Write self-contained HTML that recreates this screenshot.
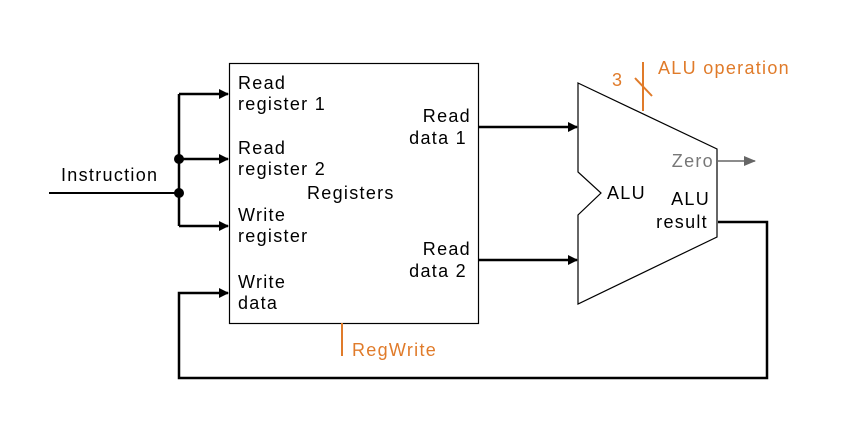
<!DOCTYPE html>
<html><head><style>
body{margin:0;background:#fff;}
svg text{font-family:"Liberation Sans",sans-serif;font-size:18px;letter-spacing:1.3px}
</style></head><body>
<svg width="855" height="427" viewBox="0 0 855 427" xmlns="http://www.w3.org/2000/svg">
<defs>
<marker id="a" markerWidth="10" markerHeight="10" refX="9" refY="5" orient="auto" markerUnits="userSpaceOnUse"><path d="M0,0 L10,5 L0,10 z" fill="#000"/></marker>
<marker id="g" markerWidth="12" markerHeight="10" refX="11" refY="5" orient="auto" markerUnits="userSpaceOnUse"><path d="M0,0 L12,5 L0,10 z" fill="#666"/></marker>
</defs>
<rect width="855" height="427" fill="#fff"/>
<rect x="229.5" y="63.5" width="249" height="260" fill="none" stroke="#000" stroke-width="1.2"/>
<line x1="49" y1="193" x2="179" y2="193" stroke="#000" stroke-width="2"/>
<line x1="179" y1="94" x2="179" y2="226" stroke="#000" stroke-width="2.5"/>
<g stroke="#000" stroke-width="2.5" fill="none" marker-end="url(#a)">
<line x1="179" y1="94" x2="228" y2="94"/>
<line x1="179" y1="159" x2="228" y2="159"/>
<line x1="179" y1="226" x2="228" y2="226"/>
<polyline points="718,222 767,222 767,378 179,378 179,293 228,293"/>
<line x1="479" y1="127" x2="577" y2="127"/>
<line x1="479" y1="260" x2="577" y2="260"/>
</g>
<circle cx="179" cy="159" r="5" fill="#000"/>
<circle cx="179" cy="193" r="5" fill="#000"/>
<polygon points="578,83 717,149 717,237 578,304 578,215 601,193 578,172" fill="none" stroke="#000" stroke-width="1.2"/>
<line x1="718" y1="161" x2="755" y2="161" stroke="#666" stroke-width="1.5" marker-end="url(#g)"/>
<g stroke="#e07b2a" stroke-width="2">
<line x1="643" y1="62" x2="643" y2="111"/>
<line x1="635" y1="78" x2="652" y2="96"/>
<line x1="342" y1="323" x2="342" y2="356"/>
</g>
<g fill="#000">
<text x="238" y="89">Read</text><text x="238" y="110">register 1</text>
<text x="238" y="154">Read</text><text x="238" y="175">register 2</text>
<text x="238" y="221">Write</text><text x="238" y="242">register</text>
<text x="238" y="288">Write</text><text x="238" y="309">data</text>
<text x="307" y="199">Registers</text>
<text x="471" y="122" text-anchor="end">Read</text><text x="467" y="144" text-anchor="end">data 1</text>
<text x="471" y="255" text-anchor="end">Read</text><text x="467" y="277" text-anchor="end">data 2</text>
<text x="61" y="181">Instruction</text>
<text x="607" y="199">ALU</text>
<text x="710" y="205" text-anchor="end">ALU</text><text x="708" y="228" text-anchor="end">result</text>
</g>
<text x="714" y="167" text-anchor="end" fill="#777">Zero</text>
<g fill="#e07b2a">
<text x="612" y="86">3</text>
<text x="658" y="74">ALU operation</text>
<text x="352" y="356">RegWrite</text>
</g>
</svg>
</body></html>
